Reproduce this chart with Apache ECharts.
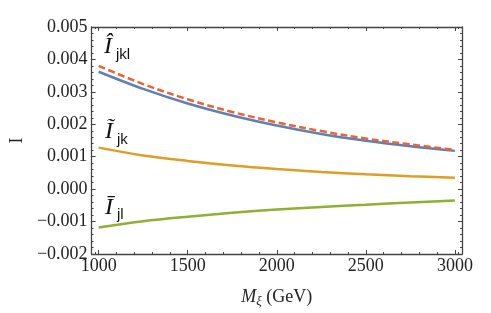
<!DOCTYPE html>
<html>
<head>
<meta charset="utf-8">
<script src="https://cdn.jsdelivr.net/npm/echarts@6/dist/echarts.min.js"></script>
<style>html,body{margin:0;padding:0;background:#fff}#c{width:491px;height:313px}</style>
</head>
<body>
<div id="c"></div>
<script>
// ---- data ----
const masses = [1000, 1250, 1500, 1750, 2000, 2250, 2500, 2750, 3000];
const iJklFull = [0.00362, 0.00309, 0.00264, 0.00227, 0.00196, 0.00170, 0.00149, 0.00132, 0.00118];
const iJklHat  = [0.00380, 0.00324, 0.00277, 0.00238, 0.00206, 0.00179, 0.00156, 0.00138, 0.00121];
const iJkTilde = [0.00128, 0.00104, 0.00087, 0.00073, 0.00062, 0.00053, 0.00046, 0.00040, 0.00035];
const iJlBar   = [-0.00118, -0.00099, -0.00085, -0.00073, -0.00063, -0.00055, -0.00048, -0.00041, -0.00035];
const xTicks = [1000, 1500, 2000, 2500, 3000];
const yTicks = [-0.002, -0.001, 0.000, 0.001, 0.002, 0.003, 0.004, 0.005];

// ---- helpers ----
function minorBetween(ticks, n) {
  const out = [];
  for (let i = 0; i < ticks.length - 1; i++) {
    const step = (ticks[i + 1] - ticks[i]) / (n + 1);
    for (let k = 1; k <= n; k++) out.push(ticks[i] + k * step);
  }
  return out;
}
const xMinor = minorBetween([900].concat(xTicks).concat([3100]), 4).filter(v => v > 960 && v < 3040);
const yMinor = minorBetween(yTicks, 4);

const frameColor = '#444';
const serif = 'Liberation Serif';
const xMin = 960, xMax = 3040, yMin = -0.002, yMax = 0.005;

function xAx(pos, ticks, len, showLine, labels) {
  return {
    type: 'value', min: xMin, max: xMax, position: pos,
    axisLine: { show: showLine, onZero: false, lineStyle: { color: frameColor, width: 1.3 } },
    axisTick: { show: true, inside: true, length: len, customValues: ticks, lineStyle: { color: frameColor, width: 1 } },
    axisLabel: labels ? { show: true, customValues: ticks, color: '#222', fontFamily: serif, fontSize: 18, margin: 3,
      formatter: v => String(Math.round(v)) } : { show: false },
    splitLine: { show: false }
  };
}
function yAx(pos, ticks, len, showLine, labels) {
  return {
    type: 'value', min: yMin, max: yMax, position: pos,
    axisLine: { show: showLine, onZero: false, lineStyle: { color: frameColor, width: 1.3 } },
    axisTick: { show: true, inside: true, length: len, customValues: ticks, lineStyle: { color: frameColor, width: 1 } },
    axisLabel: labels ? {
      show: true, customValues: ticks, color: '#222', fontFamily: serif, fontSize: 18, margin: 4,
      formatter: v => (v < -1e-9 ? '\u2212' : '') + Math.abs(v).toFixed(3)
    } : { show: false },
    splitLine: { show: false }
  };
}

const xAxes = [
  xAx('bottom', xTicks, 4, true, true),
  xAx('bottom', xMinor, 2, false, false),
  xAx('top', xTicks, 4, true, false),
  xAx('top', xMinor, 2, false, false)
];
xAxes[0].name = '{m|M}{s|\u03BE}{n| (GeV)}';
xAxes[0].nameLocation = 'middle';
xAxes[0].nameGap = 32;
xAxes[0].nameTextStyle = {
  rich: {
    m: { fontFamily: serif, fontStyle: 'italic', fontSize: 18, color: '#222', lineHeight: 22 },
    s: { fontFamily: serif, fontStyle: 'italic', fontSize: 13, color: '#222', lineHeight: 15, padding: [9, 0, 0, 0] },
    n: { fontFamily: serif, fontSize: 18, color: '#222', lineHeight: 22 }
  }
};
const yAxes = [
  yAx('left', yTicks, 4, true, true),
  yAx('left', yMinor, 2, false, false),
  yAx('right', yTicks, 4, true, false),
  yAx('right', yMinor, 2, false, false)
];
yAxes[0].name = 'I';
yAxes[0].nameLocation = 'middle';
yAxes[0].nameGap = 64;
yAxes[0].nameTextStyle = { fontFamily: serif, fontSize: 18, color: '#222' };

function pairs(ys) { return masses.map((m, i) => [m, ys[i]]); }
function line(name, ys, color, dashed) {
  return {
    name, type: 'line', xAxisIndex: 0, yAxisIndex: 0, data: pairs(ys),
    showSymbol: false, smooth: 0.35, silent: true,
    lineStyle: { color, width: 2.5, type: dashed ? [7, 3.5] : 'solid', cap: 'butt' }
  };
}

const chart = echarts.init(document.getElementById('c'), null, { renderer: 'canvas' });
chart.setOption({
  animation: false,
  backgroundColor: '#fff',
  grid: { left: 86, right: 29, top: 27, bottom: 55, containLabel: false },
  xAxis: xAxes,
  yAxis: yAxes,
  series: [
    line('full', iJklFull, '#5E81B5', false),
    line('hat', iJklHat, '#EB6235', true),
    line('tilde', iJkTilde, '#E19C24', false),
    line('bar', iJlBar, '#8FB032', false)
  ]
});

// curve labels, anchored in data coordinates
const curveLabels = [
  { main: '\u00CE', sub: 'jkl', at: [1030, 0.00438] },
  { main: '\u0128', sub: 'jk', at: [1035, 0.00178] },
  { main: '\u012A', sub: 'jl', at: [1035, -0.00056] }
];
const g = [];
curveLabels.forEach(l => {
  const p = chart.convertToPixel({ xAxisIndex: 0, yAxisIndex: 0 }, l.at);
  g.push({
    type: 'text', x: p[0], y: p[1], silent: true,
    style: { text: l.main, fontFamily: serif, fontStyle: 'italic', fontSize: 24, fill: '#111', verticalAlign: 'middle', align: 'left' }
  });
  g.push({
    type: 'text', x: p[0] + 12, y: p[1] + 8, silent: true,
    style: { text: l.sub, fontFamily: 'Liberation Sans', fontSize: 15, fill: '#111', verticalAlign: 'middle', align: 'left' }
  });
});
chart.setOption({ graphic: g });
</script>
</body>
</html>
